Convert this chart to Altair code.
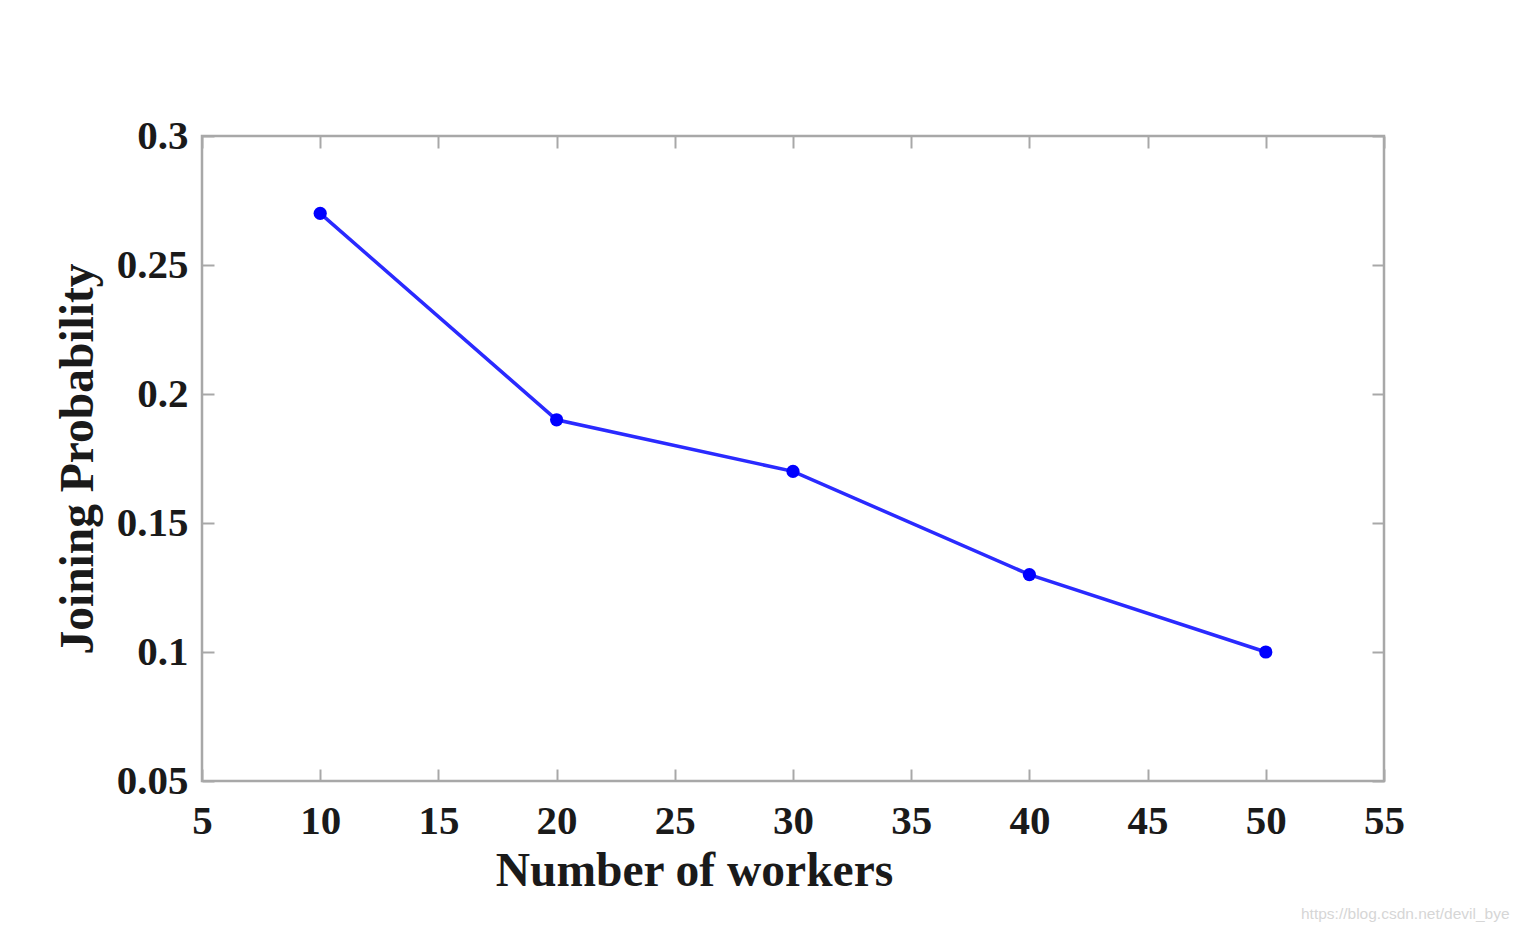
import altair as alt
import pandas as pd

workers = [10, 20, 30, 40, 50]
probability = [0.27, 0.19, 0.17, 0.13, 0.10]
x_ticks = [5, 10, 15, 20, 25, 30, 35, 40, 45, 50, 55]
y_ticks = [0.05, 0.1, 0.15, 0.2, 0.25, 0.3]
x_title = "Number of workers"
y_title = "Joining Probability"
watermark = "https://blog.csdn.net/devil_bye"

df = pd.DataFrame({"workers": workers, "prob": probability})

W, H = 1182, 645
FONT = "Liberation Serif"
FRAME = "#a8a8a8"
BLUE = "#2a2aff"

xs = alt.Scale(domain=[5, 55], nice=False, zero=False)
ys = alt.Scale(domain=[0.05, 0.3], nice=False, zero=False)

lab = dict(labelFont=FONT, labelFontSize=41, labelFontWeight="bold", labelColor="#1a1a1a",
           titleFont=FONT, titleFontSize=47.5, titleFontWeight="bold", titleColor="#1a1a1a",
           labelFlush=False, labelOverlap=False)

main_x = alt.Axis(orient="bottom", values=x_ticks, domain=False, ticks=False, tickSize=0,
                  labelPadding=20, grid=False, format="d",
                  titleX=492, titleY=104, titleAlign="center", titleBaseline="alphabetic", **lab)
main_y = alt.Axis(orient="left", values=y_ticks, domain=False, ticks=False, tickSize=0,
                  labelPadding=14, grid=False, titlePadding=14,
                  labelExpr="format(datum.value, '.2~f')", **lab)

base = alt.Chart(df)

line = base.mark_line(color=BLUE, strokeWidth=3.5).encode(
    x=alt.X("workers:Q", scale=xs, axis=main_x, title=x_title),
    y=alt.Y("prob:Q", scale=ys, axis=main_y, title=y_title),
)
pts = base.mark_circle(color="#0000ff", size=175, opacity=1).encode(
    x=alt.X("workers:Q", scale=xs, axis=None),
    y=alt.Y("prob:Q", scale=ys, axis=None),
)

def tick_axis(orient, values):
    return alt.Axis(orient=orient, values=values, domain=False, labels=False, ticks=True,
                    tickSize=12, tickWidth=2, tickColor=FRAME, offset=-12, grid=False, title=None)

ticks_bl = base.mark_point(opacity=0).encode(
    x=alt.X("workers:Q", scale=xs, axis=tick_axis("bottom", x_ticks)),
    y=alt.Y("prob:Q", scale=ys, axis=tick_axis("left", y_ticks)),
)
ticks_tr = base.mark_point(opacity=0).encode(
    x=alt.X("workers:Q", scale=xs, axis=tick_axis("top", x_ticks)),
    y=alt.Y("prob:Q", scale=ys, axis=tick_axis("right", y_ticks)),
)

wm = alt.Chart(pd.DataFrame({"t": [watermark]})).mark_text(
    font="Liberation Sans", fontSize=15.5, color="#d6d6d6", align="left", baseline="alphabetic"
).encode(text="t:N", x=alt.value(1099), y=alt.value(783))

chart = alt.layer(line, pts, ticks_bl, ticks_tr, wm).resolve_axis(
    x="independent", y="independent"
).properties(
    width=W, height=H,
    background="white",
    autosize=alt.AutoSizeParams(type="none"),
    padding={"left": 194, "top": 128, "right": 128, "bottom": 145},
).configure_view(stroke=FRAME, strokeWidth=2.5)

chart.save("out.html", embed_options={"renderer": "svg", "actions": False})
